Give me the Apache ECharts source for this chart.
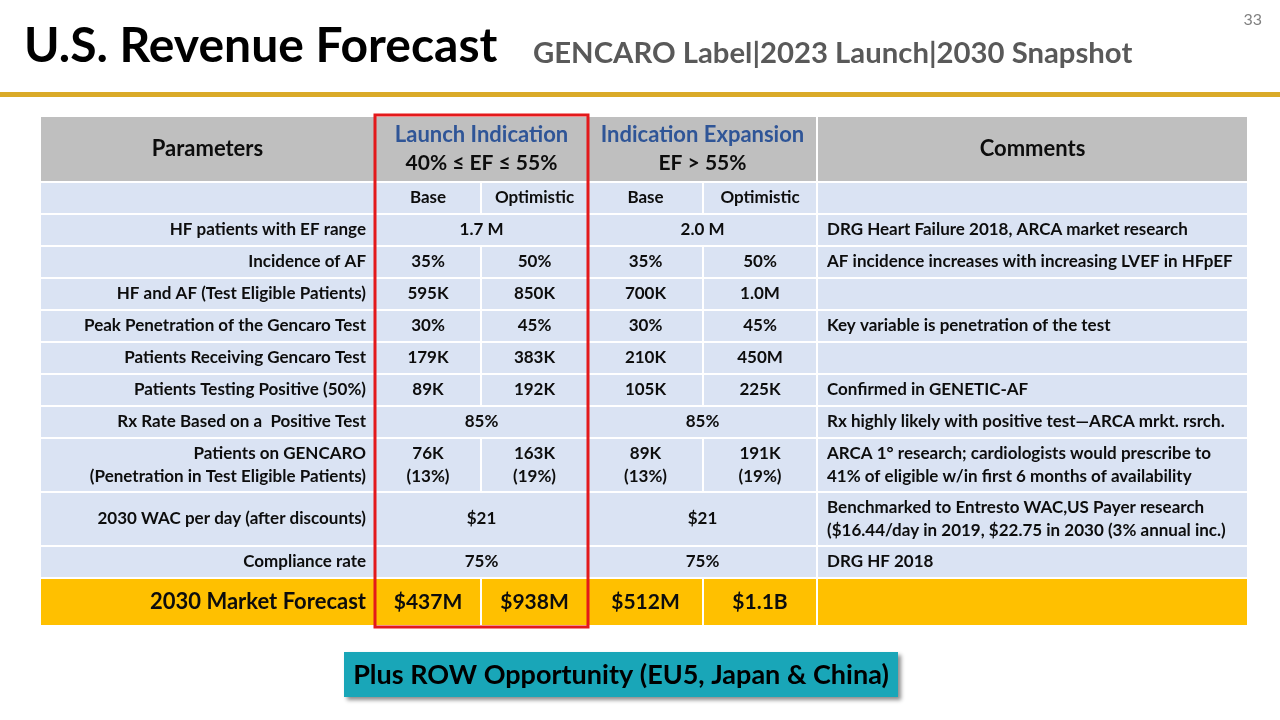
<!DOCTYPE html>
<html><head><meta charset="utf-8">
<script src="https://cdn.jsdelivr.net/npm/echarts@6/dist/echarts.min.js"></script>
<style>html,body{margin:0;padding:0;background:#fff}#c{width:1280px;height:720px}</style>
</head><body><div id="c"></div>
<script>
// ---------- data ----------
const headerGroups = ['Launch Indication', 'Indication Expansion'];
const headerRanges = ['40% ≤ EF ≤ 55%', 'EF > 55%'];
const scenarios = ['Base', 'Optimistic'];
const parameters = [
  'HF patients with EF range',
  'Incidence of AF',
  'HF and AF (Test Eligible Patients)',
  'Peak Penetration of the Gencaro Test',
  'Patients Receiving Gencaro Test',
  'Patients Testing Positive (50%)',
  'Rx Rate Based on a  Positive Test',
  'Patients on GENCARO\n(Penetration in Test Eligible Patients)',
  '2030 WAC per day (after discounts)',
  'Compliance rate'
];
// null = merged with the Base cell of the same group
const launchBase = ['1.7 M', '35%', '595K', '30%', '179K', '89K', '85%', '76K\n(13%)', '$21', '75%'];
const launchOptimistic = [null, '50%', '850K', '45%', '383K', '192K', null, '163K\n(19%)', null, null];
const expansionBase = ['2.0 M', '35%', '700K', '30%', '210K', '105K', '85%', '89K\n(13%)', '$21', '75%'];
const expansionOptimistic = [null, '50%', '1.0M', '45%', '450M', '225K', null, '191K\n(19%)', null, null];
const comments = [
  'DRG Heart Failure 2018, ARCA market research',
  'AF incidence increases with increasing LVEF in HFpEF',
  '',
  'Key variable is penetration of the test',
  '',
  'Confirmed in GENETIC-AF',
  'Rx highly likely with positive test\u2014ARCA mrkt. rsrch.',
  'ARCA 1\u00b0 research; cardiologists would prescribe to\n41% of eligible w/in first 6 months of availability',
  'Benchmarked to Entresto WAC,US Payer research\n($16.44/day in 2019, $22.75 in 2030 (3% annual inc.)',
  'DRG HF 2018'
];
const forecastLabel = '2030 Market Forecast';
const forecastValues = ['$437M', '$938M', '$512M', '$1.1B'];

// ---------- layout ----------
const FONT = 'Lato';
const colEdges = [0, 335, 441, 548, 663, 777, 1208];
const rowHeights = [66, 32, 32, 32, 32, 32, 32, 32, 32, 54, 54, 32, 48];
const rowEdges = [0];
rowHeights.forEach(h => rowEdges.push(rowEdges[rowEdges.length - 1] + h));

const cells = [];
cells.push({c0: 0, c1: 1, r: 0, text: 'Parameters', kind: 'head'});
headerGroups.forEach((g, i) => {
  cells.push({c0: 1 + 2 * i, c1: 3 + 2 * i, r: 0, text: '{b|' + g + '}\n{k|' + headerRanges[i] + '}', kind: 'headRich'});
});
cells.push({c0: 5, c1: 6, r: 0, text: 'Comments', kind: 'head'});
cells.push({c0: 0, c1: 1, r: 1, text: '', kind: 'sub'});
[0, 1].forEach(g => scenarios.forEach((s, j) => cells.push({c0: 1 + 2 * g + j, c1: 2 + 2 * g + j, r: 1, text: s, kind: 'sub'})));
cells.push({c0: 5, c1: 6, r: 1, text: '', kind: 'sub'});
parameters.forEach((p, i) => {
  const r = i + 2;
  cells.push({c0: 0, c1: 1, r, text: p, kind: 'param'});
  [[launchBase, launchOptimistic, 1], [expansionBase, expansionOptimistic, 3]].forEach(([b, o, c]) => {
    if (o[i] === null) cells.push({c0: c, c1: c + 2, r, text: b[i], kind: 'val'});
    else {
      cells.push({c0: c, c1: c + 1, r, text: b[i], kind: 'val'});
      cells.push({c0: c + 1, c1: c + 2, r, text: o[i], kind: 'val'});
    }
  });
  cells.push({c0: 5, c1: 6, r, text: comments[i], kind: 'comment'});
});
const fr = parameters.length + 2;
cells.push({c0: 0, c1: 1, r: fr, text: forecastLabel, kind: 'fparam'});
forecastValues.forEach((v, j) => cells.push({c0: 1 + j, c1: 2 + j, r: fr, text: v, kind: 'fval'}));
cells.push({c0: 5, c1: 6, r: fr, text: '', kind: 'fval'});

const BLUE_BG = '#DAE3F3', GRAY_BG = '#BFBFBF', GOLD_BG = '#FFC000', TXT = '#0d0d0d';

function renderCell(params, api) {
  const d = cells[params.dataIndex];
  const p0 = api.coord([api.value(0), api.value(1)]);
  const p1 = api.coord([api.value(2), api.value(3)]);
  const x = p0[0], y = p0[1], w = p1[0] - p0[0], h = p1[1] - p0[1];
  const head = d.kind === 'head' || d.kind === 'headRich';
  const fore = d.kind === 'fparam' || d.kind === 'fval';
  const fill = head ? GRAY_BG : (fore ? GOLD_BG : BLUE_BG);
  let align = 'center', tx = x + w / 2, size = 17, lh = 23;
  if (d.kind === 'param' || d.kind === 'fparam') { align = 'right'; tx = x + w - 9; }
  if (d.kind === 'comment') { align = 'left'; tx = x + 10; }
  if (head) { size = 22; lh = 28; }
  if (d.kind === 'fparam') { size = 22; lh = 28; }
  if (d.kind === 'fval') { size = 21; lh = 28; }
  const style = {
    text: d.text, x: tx, y: y + h / 2, align: align, verticalAlign: 'middle',
    fontFamily: FONT, fontWeight: 'bold', fontSize: size, fill: TXT, lineHeight: lh
  };
  if (d.kind === 'headRich') {
    style.rich = {
      b: {fontFamily: FONT, fontWeight: 'bold', fontSize: 22, fill: '#2F5597', color: '#2F5597', lineHeight: 28},
      k: {fontFamily: FONT, fontWeight: 'bold', fontSize: 21, fill: TXT, color: TXT, lineHeight: 28}
    };
  }
  return {
    type: 'group',
    children: [
      {type: 'rect', shape: {x: x, y: y, width: w, height: h}, style: {fill: fill, stroke: '#fff', lineWidth: 2}},
      {type: 'text', style: style}
    ]
  };
}

const chart = echarts.init(document.getElementById('c'), null, {renderer: 'canvas'});
chart.setOption({
  animation: false,
  backgroundColor: '#fff',
  title: [
    {text: 'U.S. Revenue Forecast', left: 24, top: 23, padding: 0,
     textStyle: {fontFamily: FONT, fontWeight: 'bold', fontSize: 48, color: '#000'}},
    {text: 'GENCARO Label|2023 Launch|2030 Snapshot', left: 533, top: 39, padding: 0,
     textStyle: {fontFamily: FONT, fontWeight: 'bold', fontSize: 29.3, color: '#595959'}},
    {text: '33', right: 18, top: 12, padding: 0,
     textStyle: {fontFamily: FONT, fontWeight: 'normal', fontSize: 16, color: '#808080'}}
  ],
  grid: {left: 40, right: 32, top: 116, bottom: 94},
  xAxis: {type: 'value', min: 0, max: colEdges[colEdges.length - 1], show: false},
  yAxis: {type: 'value', min: 0, max: rowEdges[rowEdges.length - 1], inverse: true, show: false},
  series: [
    {
      type: 'custom', renderItem: renderCell, clip: false,
      encode: {x: [0, 2], y: [1, 3]},
      data: cells.map(d => [colEdges[d.c0], rowEdges[d.r], colEdges[d.c1], rowEdges[d.r + 1]])
    },
    {
      type: 'custom', clip: false, z: 5,
      encode: {x: [0, 2], y: [1, 3]},
      data: [[colEdges[1], rowEdges[0], colEdges[3], rowEdges[rowEdges.length - 1]]],
      renderItem: function (params, api) {
        const p0 = api.coord([api.value(0), api.value(1)]);
        const p1 = api.coord([api.value(2), api.value(3)]);
        return {type: 'rect', shape: {x: p0[0], y: p0[1] - 1, width: p1[0] - p0[0], height: p1[1] - p0[1] + 2},
                style: {fill: 'none', stroke: '#E3191B', lineWidth: 3}};
      }
    }
  ],
  graphic: [
    {type: 'rect', shape: {x: 0, y: 92, width: 1280, height: 5}, style: {fill: '#DAAA28'}},
    {type: 'group', children: [
      {type: 'rect', shape: {x: 344, y: 652, width: 554, height: 45},
       style: {fill: '#19A6B8', shadowBlur: 4, shadowOffsetX: 3, shadowOffsetY: 3, shadowColor: 'rgba(0,0,0,0.45)'}},
      {type: 'text', style: {text: 'Plus ROW Opportunity (EU5, Japan & China)', x: 621, y: 675, align: 'center', verticalAlign: 'middle',
        fontFamily: FONT, fontWeight: 'bold', fontSize: 27, fill: '#000'}}
    ]}
  ]
});
</script></body></html>
